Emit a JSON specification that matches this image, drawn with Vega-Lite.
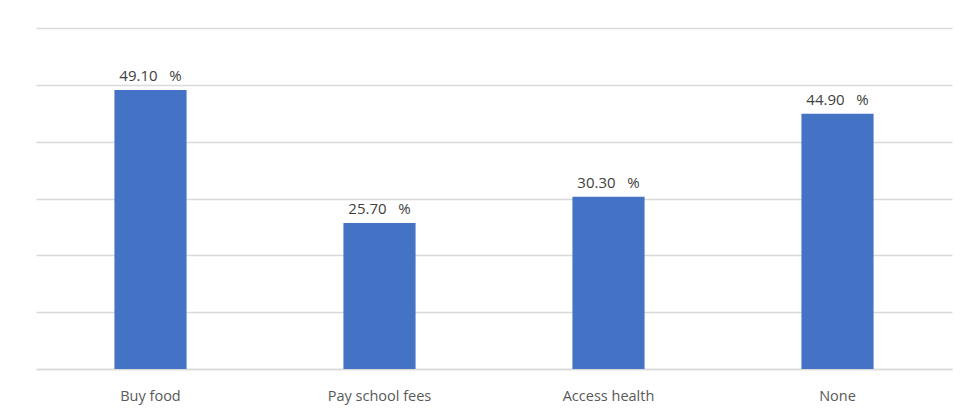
{
  "$schema": "https://vega.github.io/schema/vega-lite/v6.json",
  "autosize": {"type": "none"},
  "width": 916,
  "height": 341,
  "padding": {"left": 36, "top": 28, "right": 18, "bottom": 45},
  "background": "white",
  "config": {
    "view": {"stroke": null},
    "font": "Open Sans"
  },
  "data": {
    "values": [
      {"category": "Buy food", "value": 49.10, "label": "49.10\u00a0\u00a0\u00a0%"},
      {"category": "Pay school fees", "value": 25.70, "label": "25.70\u00a0\u00a0\u00a0%"},
      {"category": "Access health", "value": 30.30, "label": "30.30\u00a0\u00a0\u00a0%"},
      {"category": "None", "value": 44.90, "label": "44.90\u00a0\u00a0\u00a0%"}
    ]
  },
  "encoding": {
    "x": {
      "field": "category",
      "type": "nominal",
      "sort": null,
      "scale": {"paddingInner": 0.685, "paddingOuter": 0.3425},
      "axis": {
        "title": null,
        "labelAngle": 0,
        "ticks": false,
        "domainColor": "#d9d9d9",
        "domainWidth": 1.5,
        "labelPadding": 20,
        "labelFontSize": 14.5,
        "labelColor": "#595959",
        "labelFont": "Open Sans"
      }
    },
    "y": {
      "field": "value",
      "type": "quantitative",
      "scale": {"domain": [0, 60], "nice": false},
      "axis": {
        "title": null,
        "values": [0, 10, 20, 30, 40, 50, 60],
        "labels": false,
        "ticks": false,
        "domain": false,
        "gridColor": "#d9d9d9",
        "gridWidth": 1.5
      }
    }
  },
  "layer": [
    {"mark": {"type": "bar", "color": "#4472c4"}},
    {
      "mark": {"type": "text", "baseline": "bottom", "dy": -6, "fontSize": 15, "color": "#404040", "font": "Open Sans"},
      "encoding": {"text": {"field": "label"}}
    }
  ]
}
